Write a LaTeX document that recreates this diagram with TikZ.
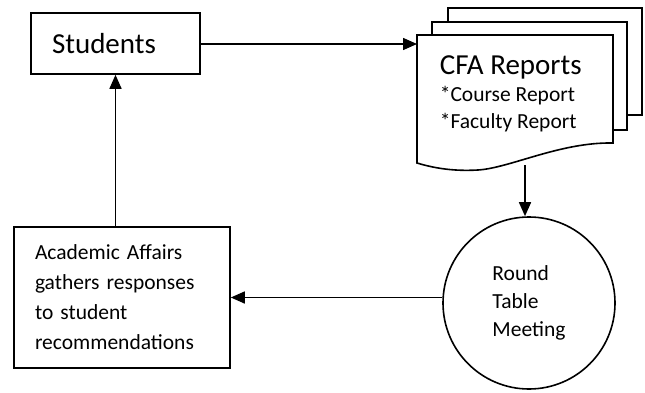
\documentclass[tikz,border=0pt]{standalone}
\usepackage{fontspec}
\setmainfont{Carlito}
\usetikzlibrary{arrows.meta}

\begin{document}
\begin{tikzpicture}[x=1pt,y=1pt,line width=1.6pt,
		flow/.style={black,-{Triangle[length=14pt,width=12pt]}},
		bigtext/.style={font=\fontsize{29}{34}\selectfont},
		smalltext/.style={font=\fontsize{21.5}{30}\selectfont},
		box/.style={draw,black,rectangle,align=left,inner xsep=21pt}]
		\useasboundingbox (0,0) rectangle (645,392);
		%
		\node[box,bigtext,text width=127pt,minimum height=61pt] (stud) at (115.5,348.5) {Students};
		\node[box,smalltext,text width=174pt,minimum height=141pt] (acad) at (122,94.5) {Academic Affairs\\gathers responses\\to student\\recommendations};
		\node[draw,black,circle,minimum size=172pt,inner sep=0pt,align=left,font=\fontsize{21.5}{28}\selectfont] (round) at (529,89) {Round\\Table\\Meeting};
		%
		\draw[black] (448,370) -- (448,384) -- (642,384) -- (642,277) -- (627,277);
		\draw[black] (432,357) -- (432,370) -- (627,370) -- (627,262) -- (613,262);
		\filldraw[black,fill=white] (417,229) -- (417,357) -- (613,357) -- (613,249)
			.. controls (560,250) and (510,224) .. (478,222)
			.. controls (460,221) and (440,222) .. (417,229) -- cycle;
		\node[align=left,anchor=north west,inner sep=0pt,font=\fontsize{21.5}{27}\selectfont] (cfa) at (439,337) {{\fontsize{29}{34}\selectfont CFA Reports}\\*Course Report\\*Faculty Report};
		\coordinate (docin) at (417,348);
		\coordinate (docout) at (525,227);
		%
		\draw[flow] (stud.east |- docin) -- (docin);
		\draw[flow] (docout) -- (docout |- round.north);
		\draw[flow] (acad.east -| round.west) -- (acad.east);
		\draw[flow] (acad.north -| stud.south) -- (stud.south);
	\end{tikzpicture}
\end{document}
